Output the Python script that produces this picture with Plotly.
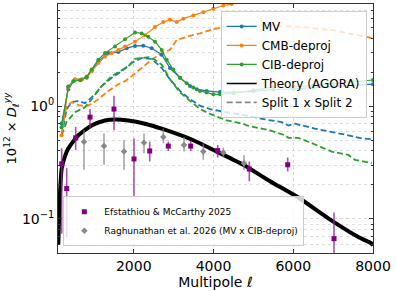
import plotly.graph_objects as go

# ---------------- data ----------------
mv_ell = [190, 358, 526, 694, 820, 945, 1111, 1362, 1612, 1823, 2031, 2239, 2450, 2701, 2909, 3160,
          3411, 3579, 3829, 4163, 4500, 5000, 5500, 6000, 6500, 7000, 7500, 8000]
mv_val = [0.70, 1.41, 1.72, 1.72, 1.78, 2.07, 2.48, 2.94, 3.00, 3.25, 3.40, 3.42, 3.25, 2.84, 2.17, 1.78,
          1.50, 1.41, 1.36, 1.33, 1.32, 1.35, 1.40, 1.42, 1.45, 1.48, 1.52, 1.56]

cib_ell = [190, 358, 484, 652, 820, 945, 1111, 1279, 1530, 1780, 2031, 2199, 2365, 2533, 2701, 2826,
           2992, 3160, 3328, 3493, 3661, 3829, 3995, 4163, 4500, 5000, 5500, 6000, 6500, 7000, 7500, 8000]
cib_val = [0.65, 1.49, 1.66, 1.69, 1.82, 2.10, 2.57, 2.94, 3.36, 3.89, 4.48, 4.39, 4.10, 3.71, 3.14, 2.57,
           2.10, 1.78, 1.59, 1.46, 1.36, 1.32, 1.27, 1.27, 1.29, 1.38, 1.46, 1.48, 1.52, 1.57, 1.64, 1.70]

cmb_ell = [190, 358, 526, 694, 820, 945, 1111, 1279, 1447, 1612, 1780, 2031, 2282, 2533, 2741, 2909,
           3077, 3243, 3493, 3744, 3995, 4246, 4456, 4700]
cmb_val = [0.55, 1.46, 1.72, 1.72, 1.82, 2.03, 2.40, 2.75, 2.94, 3.14, 3.36, 3.71, 4.24, 5.01, 5.54, 5.82,
           5.54, 5.93, 6.34, 6.77, 7.25, 7.75, 8.00, 8.60]

mv_s_ell = [190, 318, 444, 609, 777, 903, 1028, 1196, 1447, 1698, 1948, 2199, 2450, 2701, 2909, 3160,
            3411, 3661, 3912, 4331, 4833, 5292, 5710, 5876, 6044, 6546, 6964, 7381, 7717, 7882, 8000]
mv_s_val = [0.55, 0.94, 1.08, 1.11, 1.06, 1.15, 1.27, 1.50, 1.78, 2.03, 2.40, 2.66, 2.61, 2.17, 1.72, 1.36,
            1.15, 1.006, 0.94, 0.88, 0.823, 0.760, 0.721, 0.673, 0.697, 0.630, 0.590, 0.551, 0.516, 0.508, 0.508]

cib_s_ell = [190, 318, 526, 777, 945, 1196, 1447, 1698, 1863, 2031, 2199, 2365, 2533, 2701, 2909, 3160,
             3411, 3661, 3912, 4331, 4747, 4833, 5417, 5793, 5876, 6127, 6378, 6964, 7381, 7549, 7968]
cib_s_val = [0.55, 0.725, 0.88, 0.974, 1.15, 1.50, 1.84, 2.10, 2.25, 2.61, 2.66, 2.71, 2.57, 2.32, 1.72, 1.32,
             1.11, 0.94, 0.852, 0.745, 0.697, 0.673, 0.609, 0.551, 0.523, 0.523, 0.483, 0.395, 0.369, 0.334, 0.312]

cmb_s_ell = [190, 318, 444, 609, 777, 945, 1111, 1362, 1612, 1780, 1948, 2199, 2450, 2701, 2909, 3077,
             3328, 3661, 3912, 4246, 4497, 5334, 6170, 7005, 8000]
cmb_s_val = [0.62, 1.006, 1.08, 1.02, 0.994, 1.04, 1.15, 1.36, 1.56, 1.66, 1.84, 2.17, 2.57, 2.94, 3.14, 3.84,
             4.10, 4.39, 4.69, 5.01, 5.01, 5.19, 5.01, 4.69, 3.97]

th_ell = [108, 150, 193, 276, 358, 609, 945, 1279, 1530, 1863, 2282, 2701, 3493, 4080, 4747, 5417,
          6127, 6964, 7632, 7968, 8000]
th_val = [0.06, 0.17, 0.28, 0.36, 0.42, 0.551, 0.673, 0.745, 0.760, 0.745, 0.697, 0.630, 0.498, 0.395,
          0.302, 0.216, 0.155, 0.0968, 0.0693, 0.0605, 0.0580]

em_ell = [193, 318, 544, 903, 1504, 2006, 2400, 2866, 3428, 4105, 4898, 5861, 7022]
em_val = [0.308, 0.186, 0.523, 0.797, 0.94, 0.340, 0.400, 0.442, 0.442, 0.403, 0.277, 0.302, 0.0670]
em_hi = [0.422, 0.282, 0.652, 0.94, 1.23, 0.516, 0.483, 0.483, 0.489, 0.451, 0.323, 0.350, 0.114]
em_lo = [0.074, 0.0693, 0.408, 0.630, 0.609, 0.160, 0.323, 0.400, 0.400, 0.350, 0.216, 0.264, 0.0495]

rg_ell = [752, 1254, 1755, 2257, 2741, 3260, 3744, 4246, 4765]
rg_val = [0.483, 0.442, 0.395, 0.473, 0.533, 0.451, 0.395, 0.387, 0.312]
rg_hi = [0.609, 0.570, 0.498, 0.570, 0.630, 0.533, 0.466, 0.428, 0.369]
rg_lo = [0.273, 0.302, 0.273, 0.382, 0.466, 0.395, 0.334, 0.350, 0.273]

x_ticks = [2000, 4000, 6000, 8000]
y_ticks = [0.1, 1]
y_ticktext = ["10<sup>−1</sup>", "10<sup>0</sup>"]

# ---------------- figure ----------------
BLUE, ORANGE, GREEN = "#1f77b4", "#ff7f0e", "#2ca02c"
DASH = "6px,3px"
fig = go.Figure()

for ell, val, col in [(mv_s_ell, mv_s_val, BLUE), (cmb_s_ell, cmb_s_val, ORANGE), (cib_s_ell, cib_s_val, GREEN)]:
    fig.add_trace(go.Scatter(x=ell, y=val, mode="lines", showlegend=False,
                             line=dict(color=col, width=1.8, dash=DASH)))

for ell, val, col, name in [(mv_ell, mv_val, BLUE, "MV"), (cmb_ell, cmb_val, ORANGE, "CMB-deproj"),
                            (cib_ell, cib_val, GREEN, "CIB-deproj")]:
    fig.add_trace(go.Scatter(x=ell, y=val, mode="lines+markers", name=name, legend="legend",
                             line=dict(color=col, width=1.2), marker=dict(color=col, size=4)))

fig.add_trace(go.Scatter(x=th_ell, y=th_val, mode="lines", showlegend=False,
                         line=dict(color="black", width=4, shape="spline", smoothing=0.6)))
fig.add_trace(go.Scatter(x=[None], y=[None], mode="lines", name="Theory (AGORA)", legend="legend",
                         line=dict(color="black", width=1.6)))
fig.add_trace(go.Scatter(x=[None], y=[None], mode="lines", name="Split 1 x Split 2", legend="legend",
                         line=dict(color="#888888", width=1.8, dash=DASH)))

fig.add_trace(go.Scatter(
    x=em_ell, y=em_val, mode="markers", name="Efstathiou & McCarthy 2025", legend="legend2",
    marker=dict(color="#800080", size=5, symbol="square"),
    error_y=dict(type="data", symmetric=False,
                 array=[h - v for h, v in zip(em_hi, em_val)],
                 arrayminus=[v - l for v, l in zip(em_val, em_lo)],
                 color="rgba(150,40,150,0.8)", thickness=1.6, width=0)))
fig.add_trace(go.Scatter(
    x=rg_ell, y=rg_val, mode="markers", name="Raghunathan et al. 2026 (MV x CIB-deproj)", legend="legend2",
    marker=dict(color="#888888", size=5, symbol="diamond"),
    error_y=dict(type="data", symmetric=False,
                 array=[h - v for h, v in zip(rg_hi, rg_val)],
                 arrayminus=[v - l for v, l in zip(rg_val, rg_lo)],
                 color="rgba(128,128,128,0.7)", thickness=1.6, width=0)))

minor_y = [0.05, 0.06, 0.07, 0.08, 0.09, 0.2, 0.3, 0.4, 0.5, 0.6, 0.7, 0.8, 0.9,
           2, 3, 4, 5, 6, 7, 8]

fig.update_layout(
    width=396, height=291,
    margin=dict(l=58, r=23, t=3, b=35),
    paper_bgcolor="white", plot_bgcolor="white",
    font=dict(family="DejaVu Sans", color="black"),
    xaxis=dict(range=[100, 8000], tickvals=x_ticks, ticks="inside", ticklen=4, tickcolor="#333",
               showline=True, linecolor="#333", linewidth=1, mirror="ticks",
               showgrid=True, gridcolor="#d6d6d6", griddash="dot", gridwidth=0.8, zeroline=False,
               tickfont=dict(size=14),
               title=dict(text="Multipole ℓ", font=dict(size=14), standoff=4)),
    yaxis=dict(type="log", range=[-1.301, 0.903], tickvals=y_ticks, ticktext=y_ticktext,
               ticks="inside", ticklen=4, tickcolor="#333",
               showline=True, linecolor="#333", linewidth=1, mirror="ticks",
               showgrid=True, gridcolor="#d6d6d6", griddash="dot", gridwidth=0.8, zeroline=False,
               tickfont=dict(size=14),
               minor=dict(tickvals=minor_y, ticks="inside", ticklen=2, tickcolor="#333",
                          showgrid=True, gridcolor="#e0e0e0", griddash="dot", gridwidth=0.7),
               title=dict(text="10<sup>12</sup> × <i>D</i><sub>ℓ</sub><sup><i>yy</i></sup>",
                          font=dict(size=13), standoff=2)),
    legend=dict(x=0.98, y=0.972, xanchor="right", yanchor="top",
                bgcolor="rgba(255,255,255,0.8)", bordercolor="#cccccc", borderwidth=1,
                font=dict(size=12), itemwidth=30, tracegroupgap=0),
    legend2=dict(x=0.017, y=0.027, xanchor="left", yanchor="bottom",
                 bgcolor="rgba(255,255,255,0.8)", bordercolor="#cccccc", borderwidth=1,
                 font=dict(size=9), itemwidth=30),
)

fig.write_html("out.html", config={"displayModeBar": False},
               post_script="document.body.style.margin='0';document.body.style.overflow='hidden';")
